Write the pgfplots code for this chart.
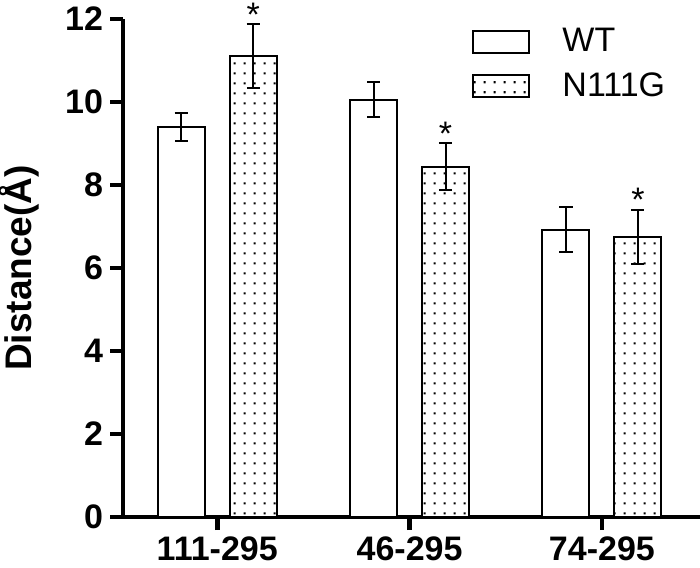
\documentclass[border=0pt]{standalone}
\usepackage{fontspec}
\setmainfont{Liberation Sans}
\usepackage{pgfplots}
\usepackage{pgfplotstable}
\pgfplotsset{compat=1.18}
\usetikzlibrary{patterns}

\pgfdeclarepatternformonly{mydots}{\pgfpoint{0pt}{0pt}}{\pgfpoint{5pt}{5pt}}{\pgfpoint{5pt}{5pt}}{%
  \pgfpathrectangle{\pgfpoint{2pt}{2pt}}{\pgfpoint{1.1pt}{1.1pt}}\pgfusepath{fill}}

\pgfplotstableread{
xw      wt    wterr  xs     mut    muterr  star
-0.187  9.40  0.34   0.187  11.10  0.77    11.87
0.813   10.05 0.42   1.187  8.44   0.56    9.00
1.813   6.92  0.54   2.187  6.75   0.65    7.42
}\datatable

\begin{document}
\begin{tikzpicture}
\begin{axis}[
  scale only axis, width=288.5pt, height=249pt,
  xmin=-0.49, xmax=2.51, ymin=0, ymax=12,
  axis x line*=bottom, axis y line*=left,
  axis line style={line width=2.3pt, -},
  xtick={0,1,2}, xticklabels={111-295,46-295,74-295},
  ytick={0,2,4,6,8,10,12},
  tick align=outside, major tick length=6.5pt,
  tick style={line width=2.3pt, black},
  /pgf/number format/assume math mode=true,
  ticklabel style={font=\bfseries\fontsize{17}{20}\selectfont},
  ylabel={Distance(Å)},
  every axis y label/.style={at={(axis description cs:-0.18,0.5)}, rotate=90, anchor=center,
    font=\bfseries\fontsize{18.5}{21}\selectfont},
  legend style={at={(0.605,0.982)}, anchor=north west, draw=none, fill=none,
    font=\fontsize{17}{20}\selectfont, row sep=9pt, column sep=16pt,
    inner sep=0pt, nodes={inner sep=0pt}},
  legend cell align=left,
  legend image code/.code={\draw[#1] (0pt,-5.5pt) rectangle (28pt,5.5pt);},
  clip=false,
]
\addplot[ybar, bar width=0.244, bar shift=0pt, draw=black, line width=1pt, fill=white,
  error bars/.cd, y dir=both, y explicit,
  error bar style={line width=1pt, black},
  error mark options={rotate=90, mark size=3.3pt, line width=1pt, black}]
  table[x=xw, y=wt, y error=wterr] {\datatable};
\addlegendentry{WT}
\addplot[ybar, bar width=0.244, bar shift=0pt, draw=black, line width=1pt, fill=white,
  postaction={pattern=mydots},
  error bars/.cd, y dir=both, y explicit,
  error bar style={line width=1pt, black},
  error mark options={rotate=90, mark size=3.3pt, line width=1pt, black}]
  table[x=xs, y=mut, y error=muterr] {\datatable};
\addlegendentry{N111G}
\addplot[draw=none, forget plot, nodes near coords={*},
  every node near coord/.style={anchor=base, yshift=-1pt, inner sep=0pt, text=black,
    font=\fontsize{17}{20}\selectfont}]
  table[x=xs, y=star] {\datatable};
\end{axis}
\pgfresetboundingbox
\path[use as bounding box] (-61.5pt,-25pt) rectangle (288.5pt,258.5pt);
\end{tikzpicture}
\end{document}
